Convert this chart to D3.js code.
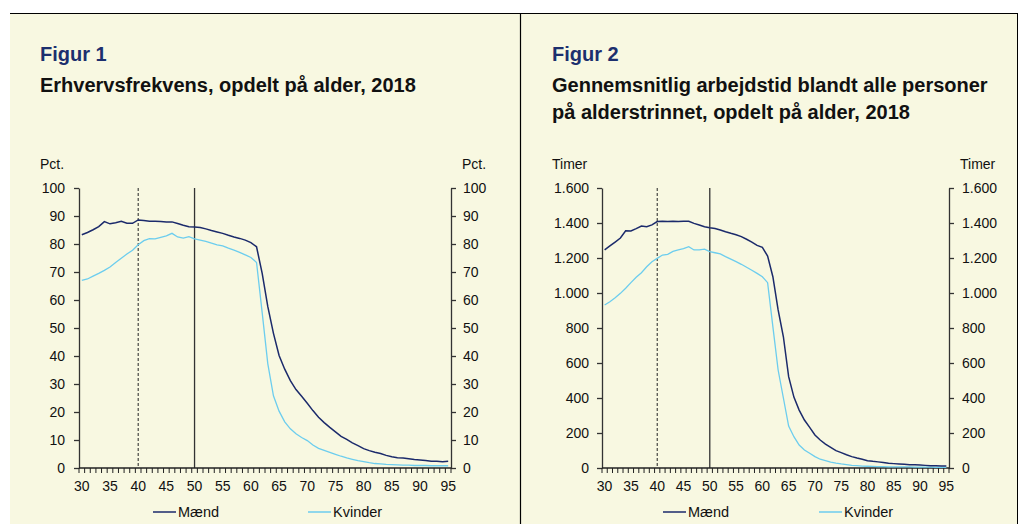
<!DOCTYPE html>
<html><head><meta charset="utf-8">
<script src="https://cdn.jsdelivr.net/npm/d3@7"></script>
<style>
html,body{margin:0;padding:0;background:#fff;}
svg{display:block;font-family:"Liberation Sans",Arial,sans-serif;}
</style></head>
<body>
<svg id="c" width="1018" height="524"></svg>
<script>
const ages = d3.range(30, 96);
const xTickLabels = [30,35,40,45,50,55,60,65,70,75,80,85,90,95];
const seriesNames = ["Mænd","Kvinder"];

const erhvMaend = [83.3,84.1,85.1,86.2,88.0,87.2,87.6,88.1,87.4,87.4,88.6,88.4,88.1,88.1,88.0,87.9,87.9,87.3,86.7,86.2,86.1,85.9,85.4,84.8,84.3,83.8,83.1,82.5,82.0,81.4,80.5,79.0,69.5,57.6,48.1,40.2,35.3,31.2,28.0,25.6,23.1,20.5,18.1,16.2,14.5,12.9,11.3,10.2,9.0,8.0,6.9,6.2,5.6,5.2,4.5,4.0,3.7,3.6,3.3,3.0,2.9,2.7,2.4,2.4,2.2,2.4];
const erhvKvinder = [67.0,67.5,68.5,69.5,70.6,71.8,73.4,74.9,76.4,77.8,79.7,81.2,81.9,81.8,82.4,82.9,83.8,82.5,82.1,82.6,81.8,81.4,80.9,80.3,79.7,79.3,78.5,77.8,77.0,76.1,75.2,73.4,55.5,37.2,25.8,20.3,16.5,14.0,12.2,10.9,9.8,8.2,7.0,6.3,5.6,4.9,4.2,3.6,3.1,2.6,2.3,1.9,1.6,1.5,1.3,1.2,1.1,1.0,1.0,0.9,0.9,0.9,0.8,0.8,0.8,0.8];
const timerMaend = [1246,1269,1291,1314,1356,1354,1368,1383,1379,1389,1408,1410,1408,1410,1408,1410,1410,1398,1389,1379,1373,1368,1360,1350,1341,1333,1322,1307,1291,1272,1261,1211,1093,903,750,522,405,331,274,232,189,160,137,118,99,88,76,65,57,50,42,38,35,31,27,25,23,21,19,19,17,15,13,13,11,11];
const timerKvinder = [931,950,973,998,1027,1059,1090,1116,1150,1179,1198,1217,1221,1238,1246,1253,1265,1246,1246,1251,1236,1230,1223,1208,1194,1179,1164,1147,1130,1112,1093,1059,808,560,400,240,179,131,103,84,65,50,42,34,28,23,19,15,13,11,10,9,8,8,7,7,6,6,6,5,5,5,5,4,4,4];

const yTicks1 = [0,10,20,30,40,50,60,70,80,90,100];
const yTickLabels1 = ["0","10","20","30","40","50","60","70","80","90","100"];
const yTicks2 = [0,200,400,600,800,1000,1200,1400,1600];
const yTickLabels2 = ["0","200","400","600","800","1.000","1.200","1.400","1.600"];
const markerAges = [40, 50];

const BG = "#F8F8E1", MEN = "#1B2A6B", WOMEN = "#6CCDEE", FIG = "#1C2F6E";
const FS = 14;

const svg = d3.select("#c");
svg.append("rect").attr("x",10).attr("y",14).attr("width",510).attr("height",510).attr("fill",BG);
svg.append("rect").attr("x",521).attr("y",14).attr("width",496).attr("height",510).attr("fill",BG);
svg.append("line").attr("x1",10).attr("x2",1018).attr("y1",13.5).attr("y2",13.5).attr("stroke","#000").attr("stroke-width",1.2);
svg.append("line").attr("x1",520.5).attr("x2",520.5).attr("y1",13).attr("y2",524).attr("stroke","#000").attr("stroke-width",1.2);
svg.append("line").attr("x1",1017.5).attr("x2",1017.5).attr("y1",13).attr("y2",524).attr("stroke","#000").attr("stroke-width",1);

function drawChart(o){
  const g = svg.append("g");
  g.append("text").attr("x",o.tx).attr("y",61).attr("fill",FIG).attr("font-weight","bold").attr("font-size",20).text(o.fig);
  o.title.forEach((t,i)=>g.append("text").attr("x",o.tx).attr("y",92+i*27).attr("fill","#111").attr("font-weight","bold").attr("font-size",20).text(t));
  const x = d3.scaleBand().domain(ages).range([o.x0,o.x1]);
  const y = d3.scaleLinear().domain([0,o.ymax]).range([468,188]);
  const cx = a => x(a)+x.bandwidth()/2;
  // units
  g.append("text").attr("x",o.tx).attr("y",169).attr("font-size",FS).attr("fill","#111").text(o.unit);
  g.append("text").attr("x",o.x1+11).attr("y",169).attr("font-size",FS).attr("fill","#111").text(o.unit);
  // marker lines
  g.append("line").attr("x1",cx(markerAges[0])).attr("x2",cx(markerAges[0])).attr("y1",188).attr("y2",468)
    .attr("stroke","#222").attr("stroke-width",1).attr("stroke-dasharray","3,2");
  g.append("line").attr("x1",cx(markerAges[1])).attr("x2",cx(markerAges[1])).attr("y1",188).attr("y2",468)
    .attr("stroke","#333").attr("stroke-width",1.3);
  // y axes
  const fmt = d => o.yl[o.yt.indexOf(d)];
  const ly = g.append("g").attr("transform",`translate(${o.x0},0)`).call(d3.axisLeft(y).tickValues(o.yt).tickFormat(fmt).tickSize(5).tickPadding(o.padL).tickSizeOuter(0));
  const ry = g.append("g").attr("transform",`translate(${o.x1},0)`).call(d3.axisRight(y).tickValues(o.yt).tickFormat(fmt).tickSize(5).tickPadding(o.padR).tickSizeOuter(0));
  [ly,ry].forEach(a=>{
    a.selectAll("text").attr("font-size",FS).attr("fill","#111").attr("font-family","Liberation Sans, Arial, sans-serif");
    a.selectAll("line,path").attr("stroke","#333").attr("stroke-width",1.3);
  });
  // x axis
  g.append("line").attr("x1",o.x0).attr("x2",o.x1).attr("y1",468).attr("y2",468).attr("stroke","#222").attr("stroke-width",1.3);
  g.selectAll(null).data(ages.concat([null])).enter().append("line")
    .attr("x1",d=> d===null? o.x1 : x(d)).attr("x2",d=> d===null? o.x1 : x(d))
    .attr("y1",468).attr("y2",473).attr("stroke","#222").attr("stroke-width",1);
  g.selectAll(null).data(xTickLabels).enter().append("text")
    .attr("x",d=>cx(d)).attr("y",491).attr("text-anchor","middle").attr("font-size",FS).attr("fill","#111").text(d=>d);
  // lines
  const line = d3.line().x((d,i)=>cx(ages[i])).y(d=>y(d));
  g.append("path").datum(o.women).attr("d",line).attr("fill","none").attr("stroke",WOMEN).attr("stroke-width",1.3);
  g.append("path").datum(o.men).attr("d",line).attr("fill","none").attr("stroke",MEN).attr("stroke-width",1.5);
  // legend
  const cols=[MEN,WOMEN];
  seriesNames.forEach((n,i)=>{
    const lx = o.leg[i];
    g.append("line").attr("x1",lx).attr("x2",lx+23).attr("y1",512).attr("y2",512).attr("stroke",cols[i]).attr("stroke-width",1.5);
    g.append("text").attr("x",lx+25).attr("y",517).attr("font-size",14.5).attr("fill","#111").text(n);
  });
}

drawChart({fig:"Figur 1", title:["Erhvervsfrekvens, opdelt på alder, 2018"], tx:40, unit:"Pct.",
  x0:79, x1:451, ymax:100, yt:yTicks1, yl:yTickLabels1, padL:9, padR:7,
  men:erhvMaend, women:erhvKvinder, leg:[153,308]});
drawChart({fig:"Figur 2", title:["Gennemsnitlig arbejdstid blandt alle personer","på alderstrinnet, opdelt på alder, 2018"], tx:552, unit:"Timer",
  x0:602, x1:949, ymax:1600, yt:yTicks2, yl:yTickLabels2, padL:8, padR:8,
  men:timerMaend, women:timerKvinder, leg:[663,819]});
</script>
</body></html>
